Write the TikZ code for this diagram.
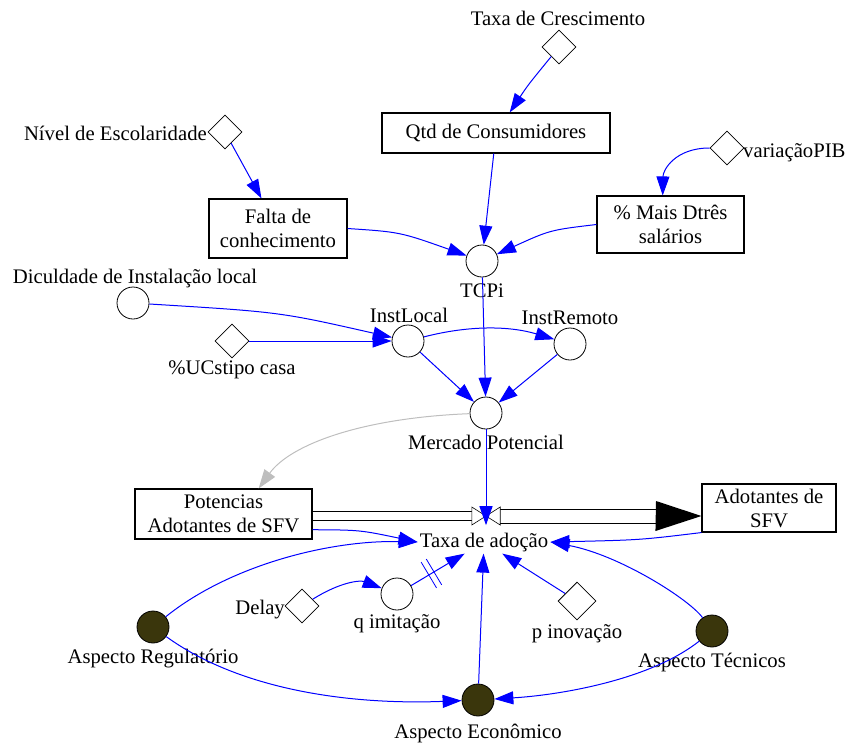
\documentclass[tikz,border=0pt]{standalone}
\usepackage{fontspec}
\setmainfont{Liberation Serif}
\usetikzlibrary{arrows.meta,shapes.geometric,calc,decorations.markings}
\definecolor{linkblue}{RGB}{0,0,255}
\definecolor{darkolive}{RGB}{58,54,12}
\definecolor{infogrey}{RGB}{190,190,190}
\begin{document}
\begin{tikzpicture}[x=1pt,y=-1pt,
  every node/.style={font=\fontsize{20.7}{24}\selectfont},
  stockbox/.style={draw, line width=1.1pt, align=center, inner sep=0pt},
  auxvar/.style={circle, draw, line width=0.8pt, minimum size=32pt, inner sep=0pt},
  constvar/.style={diamond, draw, line width=0.8pt, minimum size=34pt, inner sep=0pt, aspect=1},
  aspectvar/.style={circle, draw, fill=darkolive, line width=0.8pt, minimum size=32pt, inner sep=0pt},
  varname/.style={inner sep=0pt},
  link/.style={draw=linkblue, line width=1pt, -{Triangle[length=19pt,width=13pt]}},
  greylink/.style={draw=infogrey, line width=1pt, -{Triangle[length=19pt,width=13pt]}},
  pipe/.style={draw=black, line width=1pt, double=white, double distance=#1},
]
\useasboundingbox (0,0) rectangle (845,747);

% stocks
\node[stockbox, minimum width=228pt, minimum height=40pt] (qtd) at (496,133) {Qtd de Consumidores};
\node[stockbox, minimum width=138pt, minimum height=59pt] (falta) at (278,228.5) {Falta de\\conhecimento};
\node[stockbox, minimum width=147pt, minimum height=57pt] (pct) at (670.5,224.5) {\% Mais Dtrês\\salários};
\node[stockbox, minimum width=177pt, minimum height=50pt] (pot) at (223.5,514) {Potencias\\Adotantes de SFV};
\node[stockbox, minimum width=134pt, minimum height=48pt] (ado) at (769,508) {Adotantes de\\SFV};

% constants
\node[constvar] (tc) at (559,47) {};
\node[constvar] (nivel) at (225,132) {};
\node[constvar] (vpib) at (727,148) {};
\node[constvar] (ucs) at (232,341) {};
\node[constvar] (delay) at (302,606) {};
\node[constvar, minimum size=38pt] (pin) at (577,601) {};

% auxiliaries
\node[auxvar] (tcpi) at (482,261) {};
\node[auxvar] (dic) at (133,303) {};
\node[auxvar] (instl) at (408,341) {};
\node[auxvar] (instr) at (570,344) {};
\node[auxvar] (merc) at (486,413) {};
\node[auxvar] (qim) at (397,594) {};

% aspects
\node[aspectvar] (reg) at (153,627) {};
\node[aspectvar] (tec) at (712,631) {};
\node[aspectvar] (econ) at (478,700) {};

% names
\node[varname, anchor=base] (tcname) at (558,25) {Taxa de Crescimento};
\node[varname, anchor=base east] (nivelname) at (207,140) {Nível de Escolaridade};
\node[varname, anchor=base west] (vpibname) at (743,157) {variaçãoPIB};
\node[varname, anchor=base] (tcpiname) at (482,297) {TCPi};
\node[varname, anchor=base] (dicname) at (135,283) {Diculdade de Instalação local};
\node[varname, anchor=base] (ucsname) at (232,374) {\%UCstipo casa};
\node[varname, anchor=base] (instlname) at (409,322) {InstLocal};
\node[varname, anchor=base] (instrname) at (570,324) {InstRemoto};
\node[varname, anchor=base] (mercname) at (486,449) {Mercado Potencial};
\node[varname, anchor=base east] (delayname) at (285,614) {Delay};
\node[varname, anchor=base] (qimname) at (397,628) {q imitação};
\node[varname, anchor=base] (pinname) at (577,638) {p inovação};
\node[varname, anchor=base] (regname) at (153,663) {Aspecto Regulatório};
\node[varname, anchor=base] (tecname) at (712,667) {Aspecto Técnicos};
\node[varname, anchor=base] (econname) at (478,738) {Aspecto Econômico};
\node[inner sep=2pt, anchor=base] (taxa) at (484,547) {Taxa de adoção};

% flow pipe with valve
\node[inner sep=0pt, minimum width=28pt, minimum height=18pt] (valve) at (486,516) {};
\coordinate (pipeend) at (656,516);
\draw[pipe=8pt] (pot.east |- valve) -- (valve.west);
\draw[pipe=13pt] (valve.east) -- (pipeend);
\fill (pipeend) ++(0,-15) -- (ado.west |- valve) -- ++(-46,15) -- cycle;
\draw[line width=0.6pt, fill=white] (valve.west) ++(0,-9) -- ++(0,18) -- (valve.center) -- cycle;
\draw[line width=0.6pt, fill=white] (valve.east) ++(0,-9) -- ++(0,18) -- (valve.center) -- cycle;

% information links
\draw[link] (tc) .. controls (528,85) .. (qtd);
\draw[link] (nivel) -- (falta);
\draw[link] (vpib.west) .. controls (675,148) and (663,170) .. (pct.105);
\draw[link] (qtd) -- (tcpi);
\draw[link] (falta.east) .. controls (400,232) .. (tcpi);
\draw[link] (pct.west) .. controls (550,230) .. (tcpi);
\draw[link] (dic) .. controls (280,312) .. (instl);
\draw[link] (ucs) -- (instl);
\draw[link] (instl) .. controls (470,325) and (510,326) .. (instr);
\draw[link] (instl) -- (merc);
\draw[link] (instr) -- (merc);
\draw[link] (tcpi) -- (merc);
\draw[greylink] (merc) .. controls (360,418) and (290,445) .. (pot.36);
\draw[link] (merc) -- (valve.south);

\draw[link] (pot.-10) .. controls (360,530) .. (taxa.west);
\draw[link] (reg) .. controls (230,565) and (330,540) .. (taxa.west);
\draw[link] (ado.south west) .. controls (640,540) .. (taxa.east);
\draw[link] (tec) .. controls (690,600) and (620,555) .. (taxa.east);
\draw[link, postaction={decorate}, decoration={markings, mark=at position 0.38 with {\draw[-, linkblue, line width=0.8pt] (-3,-15) -- (-3,15) (3,-15) -- (3,15);}}] (qim) -- (taxa);
\draw[link] (econ) -- (taxa);
\draw[link] (pin) -- (taxa);
\draw[link] (delay) .. controls (340,582) and (360,580) .. (qim);

\draw[link] (reg) .. controls (240,690) and (350,705) .. (econ);
\draw[link] (tec) .. controls (650,680) and (560,695) .. (econ);
\end{tikzpicture}
\end{document}
